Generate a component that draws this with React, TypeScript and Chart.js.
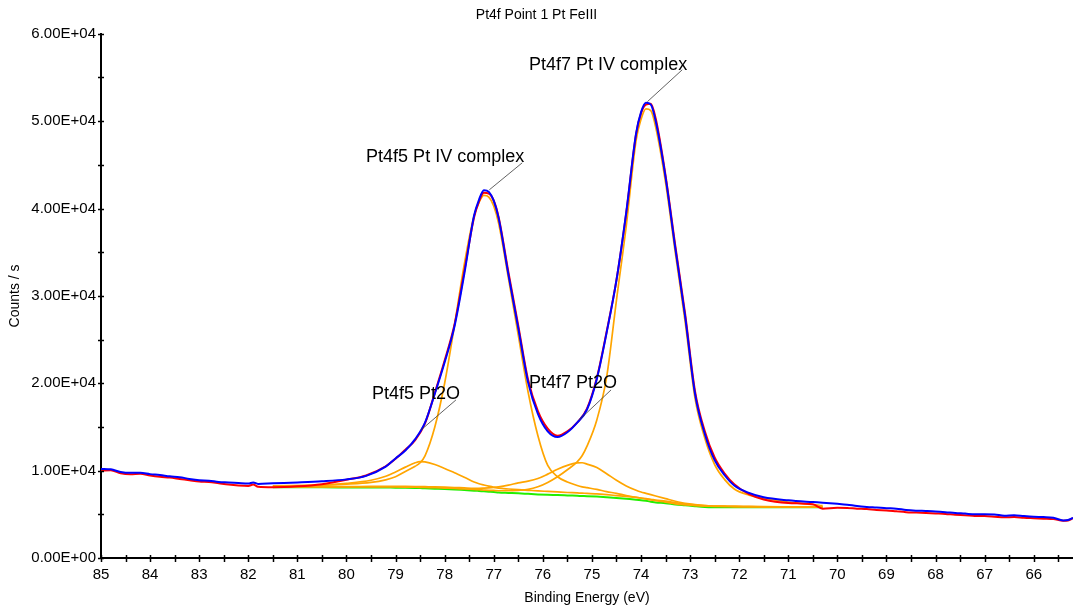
import React, { useEffect, useRef } from "react";
import { Chart, registerables } from "chart.js";

Chart.register(...registerables);

// ---- Data ----
const chartTitle = "Pt4f Point 1 Pt FeIII";
const xAxisTitle = "Binding Energy (eV)";
const yAxisTitle = "Counts / s";

// Envelope (blue) and raw data (red) share this energy grid
const scanEnergy = [
  85.0, 84.8, 84.6, 84.4, 84.2, 84.0, 83.8, 83.6, 83.4, 83.2, 83.0, 82.8, 82.6, 82.4, 82.2, 82.0, 81.9, 81.8,
  81.5, 81.0, 80.5, 80.0, 79.6, 79.2,
  79.0, 78.8, 78.6, 78.4, 78.2, 78.0, 77.8, 77.6, 77.4, 77.3, 77.2, 77.1, 77.0, 76.9,
  76.7, 76.5, 76.3, 76.1, 75.9, 75.7, 75.5, 75.3, 75.1, 74.9, 74.7, 74.5, 74.3, 74.1,
  74.0, 73.9, 73.8, 73.7, 73.5, 73.3, 73.1, 72.9, 72.7, 72.5, 72.3, 72.1,
  71.8, 71.5, 71.0, 70.5, 70.3,
  70.0, 69.8, 69.6, 69.4, 69.2, 69.0, 68.8, 68.6, 68.4, 68.2, 68.0, 67.8, 67.6, 67.4, 67.2, 67.0,
  66.8, 66.6, 66.4, 66.2, 66.0, 65.8, 65.6, 65.4,
  65.3, 65.2,
];

const envelopeCounts = [
  10200, 10150, 9850, 9750, 9750, 9600, 9500, 9350, 9250, 9050, 8900, 8850, 8700, 8650, 8580, 8520, 8650, 8480,
  8550, 8650, 8780, 9000, 9400, 10450,
  11400, 12300, 13600, 15500, 18800, 22400, 26500, 32500, 39200, 41000, 42100, 41900, 40900, 38900,
  32400, 26300, 20100, 16500, 14500, 13850, 14400, 15500, 17000, 20500, 25800, 31800, 39600, 48600,
  51000, 52100, 51900, 50000, 43600, 35400, 27600, 18800, 14200, 11200, 9500, 8300,
  7450, 6950, 6600, 6400, 6330,
  6200, 6100, 5950, 5850, 5780, 5700, 5650, 5500, 5420, 5380, 5330, 5250, 5150, 5080, 5000, 5000,
  4980, 4850, 4900, 4800, 4720, 4680, 4600, 4300,
  4350, 4600,
];

const rawCounts = [
  10000, 10050, 9700, 9600, 9650, 9450, 9300, 9200, 9050, 8900, 8750, 8700, 8550, 8400, 8300, 8250, 8400, 8150,
  8100, 8200, 8450, 8950, 9450, 10500,
  11350, 12400, 13500, 15400, 18900, 22600, 26700, 32800, 39000, 40800, 41800, 41700, 40900, 39000,
  32700, 26600, 20400, 16800, 14800, 14000, 14500, 15500, 17100, 20600, 25900, 31800, 39500, 48500,
  50900, 51900, 52000, 50300, 43800, 35700, 27900, 19100, 14500, 11500, 9700, 8450,
  7300, 6700, 6300, 6150, 5650,
  5750, 5720, 5650, 5600, 5500, 5450, 5350, 5250, 5200, 5150, 5100, 5050, 4950, 4900, 4820, 4800,
  4730, 4650, 4700, 4600, 4550, 4500, 4450, 4270,
  4300, 4550,
];

// Fit region grid (background + components)
const fitEnergy = [
  81.5, 80.5, 80.0, 79.5, 79.2, 79.0,
  78.8, 78.6, 78.5, 78.4, 78.2, 78.0,
  77.8, 77.6, 77.4, 77.3, 77.2, 77.1, 77.0, 76.9,
  76.7, 76.5, 76.3, 76.1, 75.9, 75.7, 75.5, 75.3, 75.2, 75.1,
  74.9, 74.7, 74.5, 74.3, 74.1, 74.0, 73.9, 73.8, 73.7,
  73.5, 73.3, 73.1, 72.9, 72.7, 72.5, 72.3, 72.1,
  71.8, 71.5, 71.0, 70.3,
];

const backgroundCounts = [
  8100, 8090, 8080, 8070, 8060, 8050,
  8040, 8020, 8000, 7980, 7940, 7900,
  7850, 7780, 7710, 7670, 7630, 7590, 7550, 7500,
  7450, 7400, 7340, 7280, 7230, 7200, 7160, 7120, 7100, 7080,
  7030, 6960, 6880, 6780, 6680, 6620, 6540, 6450, 6360,
  6280, 6130, 6030, 5930, 5850, 5820, 5810, 5800,
  5800, 5800, 5800, 5800,
];

// Pt4f7 Pt IV complex
const pt4f7IVCounts = [
  8150, 8150, 8150, 8140, 8130, 8130,
  8120, 8100, 8090, 8070, 8040, 8000,
  7960, 7900, 7840, 7810, 7780, 7750, 7730, 7700,
  7700, 7750, 7850, 8150, 8650, 9300, 10100, 11000, 11700, 12800,
  15800, 20700, 29500, 38000, 47800, 50200, 51400, 51200, 49300,
  43000, 34900, 27000, 18300, 13700, 10700, 9000, 7900,
  7200, 6850, 6400, 6000,
];

// Pt4f5 Pt IV complex
const pt4f5IVCounts = [
  8250, 8350, 8450, 8650, 8950, 9300,
  9900, 10500, 10900, 11700, 15000, 20000,
  26600, 33600, 39200, 40700, 41500, 41300, 40300, 38300,
  32000, 25500, 19000, 14000, 10600, 9300, 8700, 8300, 8150, 8050,
  7850, 7600, 7400, 7150, 6950, 6850, 6750, 6650, 6550,
  6400, 6200, 6080, 6000, 5950, 5920, 5900, 5890,
  5870, 5860, 5840, 5820,
];

// Pt4f5 Pt2O
const pt4f5Pt2OCounts = [
  8200, 8350, 8550, 8900, 9350, 9850,
  10400, 10900, 11030, 11000, 10700, 10250,
  9750, 9250, 8700, 8500, 8350, 8220, 8100, 8000,
  7900, 7820, 7750, 7680, 7620, 7560, 7500, 7450, 7420, 7400,
  7330, 7250, 7150, 7050, 6930, 6870, 6800, 6720, 6630,
  6500, 6330, 6200, 6080, 5990, 5950, 5930, 5910,
  5890, 5870, 5850, 5830,
];

// Pt4f7 Pt2O
const pt4f7Pt2OCounts = [
  8170, 8180, 8180, 8190, 8190, 8190,
  8190, 8180, 8170, 8160, 8140, 8110,
  8070, 8020, 7980, 7980, 8000, 8030, 8080, 8150,
  8350, 8600, 8800, 9100, 9600, 10150, 10600, 10880, 10900, 10750,
  10350, 9650, 8900, 8250, 7750, 7550, 7400, 7250, 7100,
  6800, 6500, 6250, 6100, 6000, 5950, 5920, 5900,
  5880, 5860, 5840, 5820,
];

// Peak labels with leader lines (data coordinates)
const annotationLabels = ["Pt4f7 Pt IV complex", "Pt4f5 Pt IV complex", "Pt4f5 Pt2O", "Pt4f7 Pt2O"];
const annotationTextEnergy = [76.28, 79.6, 79.48, 76.28];
const annotationTextCounts = [56450, 45910, 18780, 20040];
const leaderFromEnergy = [73.16, 76.42, 77.77, 74.61];
const leaderFromCounts = [55880, 45230, 18090, 19240];
const leaderToEnergy = [73.87, 77.09, 78.48, 75.26];
const leaderToCounts = [52230, 42140, 14660, 15800];

const xMin = 65.2;
const xMax = 85;
const yMin = 0;
const yMax = 60000;

// ---- helpers ----
const toPoints = (xs: number[], ys: number[]) => xs.map((x, i) => ({ x, y: ys[i] }));

function formatExp(v: number): string {
  if (v === 0) return "0.00E+00";
  const e = Math.floor(Math.log10(Math.abs(v)) + 1e-9);
  const m = v / Math.pow(10, e);
  const sign = e < 0 ? "-" : "+";
  return m.toFixed(2) + "E" + sign + String(Math.abs(e)).padStart(2, "0");
}

const FONT = "'Liberation Sans', Arial, sans-serif";

const xpsPlugin = {
  id: "xpsDecorations",
  afterDatasetsDraw(chart: any) {
    const { ctx, chartArea } = chart;
    const x = chart.scales.x;
    const y = chart.scales.y;
    ctx.save();
    // tick marks crossing the axes
    ctx.strokeStyle = "#000";
    ctx.lineWidth = 1.5;
    x.ticks.forEach((t: any) => {
      const px = Math.round(x.getPixelForValue(t.value)) + 0.5;
      ctx.beginPath();
      ctx.moveTo(px, chartArea.bottom - 3);
      ctx.lineTo(px, chartArea.bottom + 4);
      ctx.stroke();
    });
    y.ticks.forEach((t: any) => {
      const py = Math.round(y.getPixelForValue(t.value)) + 0.5;
      ctx.beginPath();
      ctx.moveTo(chartArea.left - 3, py);
      ctx.lineTo(chartArea.left + 3, py);
      ctx.stroke();
    });
    // leader lines
    ctx.strokeStyle = "#3a3a3a";
    ctx.lineWidth = 0.8;
    annotationLabels.forEach((_, i) => {
      ctx.beginPath();
      ctx.moveTo(x.getPixelForValue(leaderFromEnergy[i]), y.getPixelForValue(leaderFromCounts[i]));
      ctx.lineTo(x.getPixelForValue(leaderToEnergy[i]), y.getPixelForValue(leaderToCounts[i]));
      ctx.stroke();
    });
    // labels
    ctx.fillStyle = "#000";
    ctx.font = "18px " + FONT;
    ctx.textAlign = "left";
    ctx.textBaseline = "middle";
    annotationLabels.forEach((label, i) => {
      ctx.fillText(label, x.getPixelForValue(annotationTextEnergy[i]), y.getPixelForValue(annotationTextCounts[i]));
    });
    ctx.restore();
  },
};

export default function App() {
  const canvasRef = useRef<HTMLCanvasElement | null>(null);

  useEffect(() => {
    if (!canvasRef.current) return;
    Chart.defaults.font.family = FONT;
    Chart.defaults.color = "#000";

    const lineBase = {
      pointRadius: 0,
      pointHoverRadius: 0,
      fill: false,
      cubicInterpolationMode: "monotone" as const,
    };

    const componentSets = [pt4f7IVCounts, pt4f5IVCounts, pt4f5Pt2OCounts, pt4f7Pt2OCounts].map((vals, i) => ({
      ...lineBase,
      label: annotationLabels[i],
      data: toPoints(fitEnergy, vals),
      borderColor: "#FFA500",
      borderWidth: 1.7,
      order: 2,
    }));

    const chart = new Chart(canvasRef.current, {
      type: "line",
      data: {
        datasets: [
          {
            ...lineBase,
            label: "Envelope",
            data: toPoints(scanEnergy, envelopeCounts),
            borderColor: "#0000FF",
            borderWidth: 2,
            order: 0,
          },
          {
            ...lineBase,
            label: "Raw",
            data: toPoints(scanEnergy, rawCounts),
            borderColor: "#FF0000",
            borderWidth: 2,
            order: 1,
          },
          ...componentSets,
          {
            ...lineBase,
            label: "Background",
            data: toPoints(fitEnergy, backgroundCounts),
            borderColor: "#22EE00",
            borderWidth: 2,
            order: 3,
          },
        ],
      },
      options: {
        responsive: false,
        maintainAspectRatio: false,
        devicePixelRatio: 1,
        animation: false,
        layout: { padding: 0 },
        plugins: {
          legend: { display: false },
          tooltip: { enabled: false },
          title: {
            display: true,
            text: chartTitle,
            color: "#000",
            font: { size: 14, weight: "normal", family: FONT },
            padding: { top: 7, bottom: 10 },
          },
        },
        scales: {
          x: {
            type: "linear",
            reverse: true,
            min: xMin,
            max: xMax,
            grid: { display: false, drawTicks: false, tickLength: 0 },
            border: { display: true, color: "#000", width: 2 },
            ticks: {
              stepSize: 0.5,
              autoSkip: false,
              maxRotation: 0,
              includeBounds: false,
              padding: 8,
              color: "#000",
              font: { size: 15, family: FONT },
              callback: (v: any) => (Math.abs(v - Math.round(v)) < 1e-6 ? String(Math.round(v)) : ""),
            },
            title: {
              display: true,
              text: xAxisTitle,
              color: "#000",
              font: { size: 14, family: FONT },
              padding: { top: 0, bottom: 5 },
            },
            afterFit: (s: any) => {
              s.height = 54;
            },
          },
          y: {
            type: "linear",
            min: yMin,
            max: yMax,
            grid: { display: false, drawTicks: false, tickLength: 0 },
            border: { display: true, color: "#000", width: 2 },
            ticks: {
              stepSize: 5000,
              autoSkip: false,
              padding: 5,
              color: "#000",
              font: { size: 15, family: FONT },
              callback: (v: any) => (v % 10000 === 0 ? formatExp(v) : ""),
            },
            title: {
              display: true,
              text: yAxisTitle,
              color: "#000",
              font: { size: 14, family: FONT },
              padding: { top: 7, bottom: 0 },
            },
            afterFit: (s: any) => {
              s.width = 101;
            },
          },
        },
      },
      plugins: [xpsPlugin],
    } as any);

    return () => chart.destroy();
  }, []);

  return (
    <div style={{ position: "absolute", left: 0, top: 0, width: 1073, height: 612, background: "#fff" }}>
      <canvas ref={canvasRef} width={1073} height={612} style={{ display: "block", width: 1073, height: 612 }} />
    </div>
  );
}
